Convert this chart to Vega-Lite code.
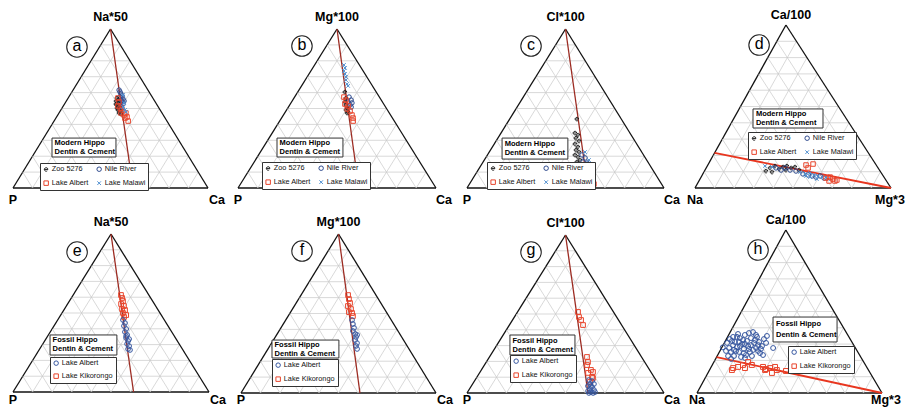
{
  "$schema": "https://vega.github.io/schema/vega-lite/v6.json",
  "background": "white",
  "padding": 0,
  "spacing": 0,
  "columns": 4,
  "bounds": "flush",
  "resolve": {
    "scale": {"x": "independent", "y": "independent", "color": "independent", "shape": "independent"},
    "legend": {"color": "independent", "shape": "independent"}
  },
  "config": {
    "view": {"stroke": null},
    "legend": {
      "labelFont": "Liberation Sans",
      "labelFontSize": 7.3,
      "labelColor": "#111",
      "symbolSize": 20,
      "symbolStrokeWidth": 1,
      "strokeColor": "#333",
      "fillColor": "white",
      "padding": 2.5,
      "rowPadding": 5,
      "columnPadding": 5,
      "labelOffset": 2
    }
  },
  "datasets": {
    "grid": [
      {"f": "t", "k": 0}, {"f": "t", "k": 0.1}, {"f": "t", "k": 0.2}, {"f": "t", "k": 0.3}, {"f": "t", "k": 0.4},
      {"f": "t", "k": 0.5}, {"f": "t", "k": 0.6}, {"f": "t", "k": 0.7}, {"f": "t", "k": 0.8}, {"f": "t", "k": 0.9},
      {"f": "r", "k": 0}, {"f": "r", "k": 0.1}, {"f": "r", "k": 0.2}, {"f": "r", "k": 0.3}, {"f": "r", "k": 0.4},
      {"f": "r", "k": 0.5}, {"f": "r", "k": 0.6}, {"f": "r", "k": 0.7}, {"f": "r", "k": 0.8}, {"f": "r", "k": 0.9},
      {"f": "l", "k": 0}, {"f": "l", "k": 0.1}, {"f": "l", "k": 0.2}, {"f": "l", "k": 0.3}, {"f": "l", "k": 0.4},
      {"f": "l", "k": 0.5}, {"f": "l", "k": 0.6}, {"f": "l", "k": 0.7}, {"f": "l", "k": 0.8}, {"f": "l", "k": 0.9}
    ],
    "pts": [
      {"panel": "a", "group": "Nile River", "top": 61.6, "right": 23.6},
      {"panel": "a", "group": "Nile River", "top": 60.4, "right": 24.7},
      {"panel": "a", "group": "Nile River", "top": 59.1, "right": 25.8},
      {"panel": "a", "group": "Nile River", "top": 57.9, "right": 27.0},
      {"panel": "a", "group": "Nile River", "top": 57.2, "right": 26.3},
      {"panel": "a", "group": "Nile River", "top": 56.0, "right": 28.4},
      {"panel": "a", "group": "Nile River", "top": 55.3, "right": 27.8},
      {"panel": "a", "group": "Nile River", "top": 54.1, "right": 28.9},
      {"panel": "a", "group": "Nile River", "top": 53.5, "right": 28.1},
      {"panel": "a", "group": "Nile River", "top": 52.8, "right": 30.0},
      {"panel": "a", "group": "Nile River", "top": 51.6, "right": 29.6},
      {"panel": "a", "group": "Nile River", "top": 50.3, "right": 29.2},
      {"panel": "a", "group": "Nile River", "top": 50.3, "right": 30.7},
      {"panel": "a", "group": "Nile River", "top": 54.7, "right": 29.6},
      {"panel": "a", "group": "Zoo 5276", "top": 56.6, "right": 25.0},
      {"panel": "a", "group": "Zoo 5276", "top": 54.7, "right": 25.5},
      {"panel": "a", "group": "Zoo 5276", "top": 53.5, "right": 27.1},
      {"panel": "a", "group": "Zoo 5276", "top": 52.2, "right": 27.2},
      {"panel": "a", "group": "Zoo 5276", "top": 51.6, "right": 28.6},
      {"panel": "a", "group": "Zoo 5276", "top": 50.3, "right": 28.2},
      {"panel": "a", "group": "Zoo 5276", "top": 49.1, "right": 29.3},
      {"panel": "a", "group": "Zoo 5276", "top": 48.4, "right": 30.7},
      {"panel": "a", "group": "Zoo 5276", "top": 47.2, "right": 30.8},
      {"panel": "a", "group": "Zoo 5276", "top": 46.5, "right": 32.2},
      {"panel": "a", "group": "Zoo 5276", "top": 55.3, "right": 26.2},
      {"panel": "a", "group": "Zoo 5276", "top": 52.8, "right": 26.4},
      {"panel": "a", "group": "Lake Albert", "top": 56.6, "right": 25.5},
      {"panel": "a", "group": "Lake Albert", "top": 54.1, "right": 27.3},
      {"panel": "a", "group": "Lake Albert", "top": 51.6, "right": 28.0},
      {"panel": "a", "group": "Lake Albert", "top": 50.3, "right": 29.8},
      {"panel": "a", "group": "Lake Albert", "top": 49.1, "right": 31.3},
      {"panel": "a", "group": "Lake Albert", "top": 47.2, "right": 31.8},
      {"panel": "a", "group": "Lake Albert", "top": 45.9, "right": 34.0},
      {"panel": "a", "group": "Lake Albert", "top": 47.2, "right": 34.3},
      {"panel": "a", "group": "Lake Albert", "top": 44.7, "right": 36.1},
      {"panel": "a", "group": "Lake Albert", "top": 42.1, "right": 38.0},
      {"panel": "a", "group": "Lake Albert", "top": 44.0, "right": 35.4},
      {"panel": "a", "group": "Lake Malawi", "top": 58.5, "right": 27.2},
      {"panel": "a", "group": "Lake Malawi", "top": 53.5, "right": 30.2},
      {"panel": "a", "group": "Lake Malawi", "top": 49.1, "right": 32.9},
      {"panel": "a", "group": "Lake Malawi", "top": 47.8, "right": 34.0},
      {"panel": "a", "group": "Lake Malawi", "top": 50.9, "right": 31.0},

      {"panel": "b", "group": "Lake Malawi", "top": 77.4, "right": 14.8},
      {"panel": "b", "group": "Lake Malawi", "top": 75.5, "right": 16.3},
      {"panel": "b", "group": "Lake Malawi", "top": 73.6, "right": 16.7},
      {"panel": "b", "group": "Lake Malawi", "top": 71.7, "right": 18.2},
      {"panel": "b", "group": "Lake Malawi", "top": 69.8, "right": 19.6},
      {"panel": "b", "group": "Lake Malawi", "top": 67.9, "right": 20.6},
      {"panel": "b", "group": "Lake Malawi", "top": 65.4, "right": 22.4},
      {"panel": "b", "group": "Lake Malawi", "top": 64.2, "right": 23.5},
      {"panel": "b", "group": "Nile River", "top": 57.2, "right": 27.5},
      {"panel": "b", "group": "Nile River", "top": 55.3, "right": 29.5},
      {"panel": "b", "group": "Nile River", "top": 53.5, "right": 30.8},
      {"panel": "b", "group": "Nile River", "top": 52.2, "right": 30.5},
      {"panel": "b", "group": "Nile River", "top": 54.1, "right": 28.5},
      {"panel": "b", "group": "Nile River", "top": 50.9, "right": 31.7},
      {"panel": "b", "group": "Zoo 5276", "top": 60.4, "right": 23.8},
      {"panel": "b", "group": "Zoo 5276", "top": 56.6, "right": 26.2},
      {"panel": "b", "group": "Zoo 5276", "top": 54.1, "right": 27.0},
      {"panel": "b", "group": "Zoo 5276", "top": 52.2, "right": 28.4},
      {"panel": "b", "group": "Zoo 5276", "top": 50.3, "right": 30.0},
      {"panel": "b", "group": "Zoo 5276", "top": 49.1, "right": 30.0},
      {"panel": "b", "group": "Zoo 5276", "top": 47.8, "right": 31.7},
      {"panel": "b", "group": "Zoo 5276", "top": 47.2, "right": 31.5},
      {"panel": "b", "group": "Lake Albert", "top": 57.2, "right": 24.9},
      {"panel": "b", "group": "Lake Albert", "top": 55.3, "right": 26.9},
      {"panel": "b", "group": "Lake Albert", "top": 52.8, "right": 27.6},
      {"panel": "b", "group": "Lake Albert", "top": 51.6, "right": 29.8},
      {"panel": "b", "group": "Lake Albert", "top": 49.7, "right": 30.3},
      {"panel": "b", "group": "Lake Albert", "top": 48.4, "right": 32.4},
      {"panel": "b", "group": "Lake Albert", "top": 45.9, "right": 34.6},
      {"panel": "b", "group": "Lake Albert", "top": 44.0, "right": 36.1},
      {"panel": "b", "group": "Lake Albert", "top": 42.1, "right": 37.1},

      {"panel": "c", "group": "Zoo 5276", "top": 43.4, "right": 34.1},
      {"panel": "c", "group": "Zoo 5276", "top": 34.6, "right": 37.5},
      {"panel": "c", "group": "Zoo 5276", "top": 33.3, "right": 39.7},
      {"panel": "c", "group": "Zoo 5276", "top": 31.4, "right": 39.6},
      {"panel": "c", "group": "Zoo 5276", "top": 29.6, "right": 42.1},
      {"panel": "c", "group": "Zoo 5276", "top": 27.7, "right": 41.0},
      {"panel": "c", "group": "Zoo 5276", "top": 25.8, "right": 43.4},
      {"panel": "c", "group": "Zoo 5276", "top": 23.9, "right": 43.4},
      {"panel": "c", "group": "Zoo 5276", "top": 22.6, "right": 45.6},
      {"panel": "c", "group": "Zoo 5276", "top": 20.8, "right": 44.4},
      {"panel": "c", "group": "Zoo 5276", "top": 19.5, "right": 46.6},
      {"panel": "c", "group": "Zoo 5276", "top": 17.6, "right": 48.6},
      {"panel": "c", "group": "Zoo 5276", "top": 16.4, "right": 47.6},
      {"panel": "c", "group": "Zoo 5276", "top": 14.5, "right": 50.7},
      {"panel": "c", "group": "Zoo 5276", "top": 13.2, "right": 49.7},
      {"panel": "c", "group": "Nile River", "top": 20.8, "right": 48.0},
      {"panel": "c", "group": "Nile River", "top": 18.9, "right": 50.5},
      {"panel": "c", "group": "Nile River", "top": 16.4, "right": 50.7},
      {"panel": "c", "group": "Nile River", "top": 15.7, "right": 53.1},
      {"panel": "c", "group": "Nile River", "top": 13.8, "right": 52.5},
      {"panel": "c", "group": "Nile River", "top": 12.6, "right": 55.1},
      {"panel": "c", "group": "Nile River", "top": 11.9, "right": 52.5},
      {"panel": "c", "group": "Nile River", "top": 10.7, "right": 55.1},
      {"panel": "c", "group": "Nile River", "top": 10.1, "right": 56.9},
      {"panel": "c", "group": "Nile River", "top": 8.8, "right": 54.5},
      {"panel": "c", "group": "Nile River", "top": 7.5, "right": 57.2},
      {"panel": "c", "group": "Nile River", "top": 6.9, "right": 59.0},
      {"panel": "c", "group": "Nile River", "top": 5.7, "right": 56.6},
      {"panel": "c", "group": "Nile River", "top": 4.4, "right": 59.2},
      {"panel": "c", "group": "Nile River", "top": 2.5, "right": 58.7},
      {"panel": "c", "group": "Nile River", "top": 3.8, "right": 61.0},
      {"panel": "c", "group": "Nile River", "top": 6.9, "right": 54.5},
      {"panel": "c", "group": "Lake Malawi", "top": 22.6, "right": 48.6},
      {"panel": "c", "group": "Lake Malawi", "top": 17.6, "right": 53.1},
      {"panel": "c", "group": "Lake Malawi", "top": 14.5, "right": 53.2},
      {"panel": "c", "group": "Lake Malawi", "top": 13.8, "right": 55.5},
      {"panel": "c", "group": "Lake Malawi", "top": 11.3, "right": 53.8},
      {"panel": "c", "group": "Lake Malawi", "top": 8.8, "right": 57.0},
      {"panel": "c", "group": "Lake Malawi", "top": 11.3, "right": 57.3},
      {"panel": "c", "group": "Lake Malawi", "top": 6.9, "right": 56.5},
      {"panel": "c", "group": "Lake Malawi", "top": 5.7, "right": 59.1},
      {"panel": "c", "group": "Lake Malawi", "top": 8.2, "right": 59.9},
      {"panel": "c", "group": "Lake Malawi", "top": 4.4, "right": 58.2},
      {"panel": "c", "group": "Lake Albert", "top": 10.1, "right": 51.8},
      {"panel": "c", "group": "Lake Albert", "top": 8.8, "right": 54.0},
      {"panel": "c", "group": "Lake Albert", "top": 7.5, "right": 53.6},
      {"panel": "c", "group": "Lake Albert", "top": 7.5, "right": 56.1},
      {"panel": "c", "group": "Lake Albert", "top": 6.3, "right": 58.8},
      {"panel": "c", "group": "Lake Albert", "top": 6.3, "right": 60.3},
      {"panel": "c", "group": "Lake Albert", "top": 2.5, "right": 63.2},
      {"panel": "c", "group": "Lake Albert", "top": 10.1, "right": 53.8},
      {"panel": "c", "group": "Lake Albert", "top": 5.0, "right": 58.4},

      {"panel": "d", "group": "Zoo 5276", "top": 10.4, "right": 31.4},
      {"panel": "d", "group": "Zoo 5276", "top": 12.3, "right": 32.6},
      {"panel": "d", "group": "Zoo 5276", "top": 13.5, "right": 34.5},
      {"panel": "d", "group": "Zoo 5276", "top": 11.7, "right": 37.5},
      {"panel": "d", "group": "Zoo 5276", "top": 12.9, "right": 38.9},
      {"panel": "d", "group": "Zoo 5276", "top": 13.5, "right": 40.6},
      {"panel": "d", "group": "Zoo 5276", "top": 12.3, "right": 43.3},
      {"panel": "d", "group": "Zoo 5276", "top": 12.9, "right": 45.0},
      {"panel": "d", "group": "Zoo 5276", "top": 11.0, "right": 48.0},
      {"panel": "d", "group": "Zoo 5276", "top": 9.8, "right": 34.8},
      {"panel": "d", "group": "Zoo 5276", "top": 11.0, "right": 41.3},
      {"panel": "d", "group": "Nile River", "top": 12.3, "right": 35.6},
      {"panel": "d", "group": "Nile River", "top": 11.0, "right": 38.8},
      {"panel": "d", "group": "Nile River", "top": 12.3, "right": 40.2},
      {"panel": "d", "group": "Nile River", "top": 11.0, "right": 43.4},
      {"panel": "d", "group": "Nile River", "top": 10.4, "right": 46.7},
      {"panel": "d", "group": "Nile River", "top": 8.6, "right": 51.1},
      {"panel": "d", "group": "Nile River", "top": 8.0, "right": 54.0},
      {"panel": "d", "group": "Nile River", "top": 7.4, "right": 56.3},
      {"panel": "d", "group": "Nile River", "top": 6.7, "right": 58.6},
      {"panel": "d", "group": "Nile River", "top": 7.4, "right": 60.4},
      {"panel": "d", "group": "Nile River", "top": 6.1, "right": 63.0},
      {"panel": "d", "group": "Lake Malawi", "top": 13.5, "right": 29.4},
      {"panel": "d", "group": "Lake Malawi", "top": 12.9, "right": 33.3},
      {"panel": "d", "group": "Lake Malawi", "top": 9.8, "right": 49.1},
      {"panel": "d", "group": "Lake Malawi", "top": 8.6, "right": 52.1},
      {"panel": "d", "group": "Lake Malawi", "top": 9.2, "right": 54.4},
      {"panel": "d", "group": "Lake Malawi", "top": 8.0, "right": 57.0},
      {"panel": "d", "group": "Lake Malawi", "top": 7.4, "right": 59.4},
      {"panel": "d", "group": "Lake Malawi", "top": 6.7, "right": 61.7},
      {"panel": "d", "group": "Lake Malawi", "top": 6.7, "right": 63.7},
      {"panel": "d", "group": "Lake Malawi", "top": 6.7, "right": 55.6},
      {"panel": "d", "group": "Lake Malawi", "top": 5.5, "right": 59.6},
      {"panel": "d", "group": "Lake Malawi", "top": 5.5, "right": 65.3},
      {"panel": "d", "group": "Lake Malawi", "top": 7.4, "right": 53.2},
      {"panel": "d", "group": "Lake Albert", "top": 14.1, "right": 50.1},
      {"panel": "d", "group": "Lake Albert", "top": 14.7, "right": 53.4},
      {"panel": "d", "group": "Lake Albert", "top": 12.3, "right": 52.0},
      {"panel": "d", "group": "Lake Albert", "top": 6.1, "right": 64.0},
      {"panel": "d", "group": "Lake Albert", "top": 6.7, "right": 65.8},
      {"panel": "d", "group": "Lake Albert", "top": 5.5, "right": 67.8},
      {"panel": "d", "group": "Lake Albert", "top": 4.3, "right": 69.4},
      {"panel": "d", "group": "Lake Albert", "top": 4.3, "right": 66.4},
      {"panel": "d", "group": "Lake Albert", "top": 4.9, "right": 70.1},

      {"panel": "e", "group": "Lake Kikorongo", "top": 61.4, "right": 24.4},
      {"panel": "e", "group": "Lake Kikorongo", "top": 59.5, "right": 25.9},
      {"panel": "e", "group": "Lake Kikorongo", "top": 57.6, "right": 27.3},
      {"panel": "e", "group": "Lake Kikorongo", "top": 55.7, "right": 27.3},
      {"panel": "e", "group": "Lake Kikorongo", "top": 54.4, "right": 29.4},
      {"panel": "e", "group": "Lake Kikorongo", "top": 52.5, "right": 29.4},
      {"panel": "e", "group": "Lake Kikorongo", "top": 51.9, "right": 31.2},
      {"panel": "e", "group": "Lake Kikorongo", "top": 50.0, "right": 31.1},
      {"panel": "e", "group": "Lake Kikorongo", "top": 48.7, "right": 33.4},
      {"panel": "e", "group": "Lake Kikorongo", "top": 47.5, "right": 32.9},
      {"panel": "e", "group": "Lake Albert", "top": 45.6, "right": 33.3},
      {"panel": "e", "group": "Lake Albert", "top": 43.7, "right": 35.3},
      {"panel": "e", "group": "Lake Albert", "top": 41.8, "right": 35.7},
      {"panel": "e", "group": "Lake Albert", "top": 39.9, "right": 37.8},
      {"panel": "e", "group": "Lake Albert", "top": 38.0, "right": 38.1},
      {"panel": "e", "group": "Lake Albert", "top": 36.1, "right": 40.2},
      {"panel": "e", "group": "Lake Albert", "top": 34.2, "right": 40.6},
      {"panel": "e", "group": "Lake Albert", "top": 32.3, "right": 42.6},
      {"panel": "e", "group": "Lake Albert", "top": 30.4, "right": 43.0},
      {"panel": "e", "group": "Lake Albert", "top": 29.1, "right": 44.7},
      {"panel": "e", "group": "Lake Albert", "top": 27.2, "right": 45.1},
      {"panel": "e", "group": "Lake Albert", "top": 26.6, "right": 46.4},
      {"panel": "e", "group": "Lake Albert", "top": 35.4, "right": 40.0},
      {"panel": "e", "group": "Lake Albert", "top": 33.5, "right": 42.5},

      {"panel": "f", "group": "Lake Kikorongo", "top": 61.6, "right": 24.1},
      {"panel": "f", "group": "Lake Kikorongo", "top": 59.1, "right": 25.8},
      {"panel": "f", "group": "Lake Kikorongo", "top": 56.6, "right": 27.6},
      {"panel": "f", "group": "Lake Kikorongo", "top": 54.7, "right": 27.5},
      {"panel": "f", "group": "Lake Kikorongo", "top": 52.8, "right": 30.0},
      {"panel": "f", "group": "Lake Kikorongo", "top": 50.9, "right": 29.9},
      {"panel": "f", "group": "Lake Kikorongo", "top": 50.3, "right": 31.8},
      {"panel": "f", "group": "Lake Kikorongo", "top": 48.4, "right": 33.2},
      {"panel": "f", "group": "Lake Albert", "top": 45.9, "right": 34.0},
      {"panel": "f", "group": "Lake Albert", "top": 43.4, "right": 35.7},
      {"panel": "f", "group": "Lake Albert", "top": 40.9, "right": 37.5},
      {"panel": "f", "group": "Lake Albert", "top": 39.0, "right": 37.9},
      {"panel": "f", "group": "Lake Albert", "top": 37.1, "right": 40.0},
      {"panel": "f", "group": "Lake Albert", "top": 35.2, "right": 41.4},
      {"panel": "f", "group": "Lake Albert", "top": 33.3, "right": 41.9},
      {"panel": "f", "group": "Lake Albert", "top": 31.4, "right": 43.8},
      {"panel": "f", "group": "Lake Albert", "top": 29.6, "right": 44.2},
      {"panel": "f", "group": "Lake Albert", "top": 27.7, "right": 45.7},
      {"panel": "f", "group": "Lake Albert", "top": 36.5, "right": 41.3},

      {"panel": "g", "group": "Lake Kikorongo", "top": 51.3, "right": 30.7},
      {"panel": "g", "group": "Lake Kikorongo", "top": 48.1, "right": 32.8},
      {"panel": "g", "group": "Lake Kikorongo", "top": 46.2, "right": 34.8},
      {"panel": "g", "group": "Lake Kikorongo", "top": 43.0, "right": 37.4},
      {"panel": "g", "group": "Lake Kikorongo", "top": 22.8, "right": 49.5},
      {"panel": "g", "group": "Lake Kikorongo", "top": 19.6, "right": 51.6},
      {"panel": "g", "group": "Lake Kikorongo", "top": 17.7, "right": 52.1},
      {"panel": "g", "group": "Lake Kikorongo", "top": 14.6, "right": 55.6},
      {"panel": "g", "group": "Lake Kikorongo", "top": 13.3, "right": 57.3},
      {"panel": "g", "group": "Lake Kikorongo", "top": 12.7, "right": 55.1},
      {"panel": "g", "group": "Lake Kikorongo", "top": 10.1, "right": 58.4},
      {"panel": "g", "group": "Lake Kikorongo", "top": 7.0, "right": 58.9},
      {"panel": "g", "group": "Lake Kikorongo", "top": 9.5, "right": 59.2},
      {"panel": "g", "group": "Lake Albert", "top": 8.2, "right": 57.8},
      {"panel": "g", "group": "Lake Albert", "top": 7.6, "right": 59.7},
      {"panel": "g", "group": "Lake Albert", "top": 5.7, "right": 59.6},
      {"panel": "g", "group": "Lake Albert", "top": 5.7, "right": 61.6},
      {"panel": "g", "group": "Lake Albert", "top": 4.4, "right": 59.2},
      {"panel": "g", "group": "Lake Albert", "top": 3.8, "right": 61.6},
      {"panel": "g", "group": "Lake Albert", "top": 2.5, "right": 61.2},
      {"panel": "g", "group": "Lake Albert", "top": 1.9, "right": 63.5},
      {"panel": "g", "group": "Lake Albert", "top": 1.3, "right": 60.8},
      {"panel": "g", "group": "Lake Albert", "top": 0.6, "right": 62.6},
      {"panel": "g", "group": "Lake Albert", "top": 0.6, "right": 64.7},
      {"panel": "g", "group": "Lake Albert", "top": 0.0, "right": 61.9},
      {"panel": "g", "group": "Lake Albert", "top": 0.0, "right": 64.0},
      {"panel": "g", "group": "Lake Albert", "top": 4.4, "right": 60.7},

      {"panel": "h", "group": "Lake Albert", "top": 28.0, "right": 0.5},
      {"panel": "h", "group": "Lake Albert", "top": 30.7, "right": 1.5},
      {"panel": "h", "group": "Lake Albert", "top": 33.1, "right": 1.9},
      {"panel": "h", "group": "Lake Albert", "top": 27.6, "right": 4.1},
      {"panel": "h", "group": "Lake Albert", "top": 25.2, "right": 6.3},
      {"panel": "h", "group": "Lake Albert", "top": 34.4, "right": 3.0},
      {"panel": "h", "group": "Lake Albert", "top": 31.3, "right": 5.5},
      {"panel": "h", "group": "Lake Albert", "top": 28.2, "right": 8.1},
      {"panel": "h", "group": "Lake Albert", "top": 25.2, "right": 10.6},
      {"panel": "h", "group": "Lake Albert", "top": 33.7, "right": 7.0},
      {"panel": "h", "group": "Lake Albert", "top": 30.1, "right": 9.9},
      {"panel": "h", "group": "Lake Albert", "top": 27.0, "right": 12.4},
      {"panel": "h", "group": "Lake Albert", "top": 35.6, "right": 8.8},
      {"panel": "h", "group": "Lake Albert", "top": 31.9, "right": 11.7},
      {"panel": "h", "group": "Lake Albert", "top": 28.8, "right": 13.8},
      {"panel": "h", "group": "Lake Albert", "top": 25.2, "right": 16.5},
      {"panel": "h", "group": "Lake Albert", "top": 33.7, "right": 13.0},
      {"panel": "h", "group": "Lake Albert", "top": 37.4, "right": 12.3},
      {"panel": "h", "group": "Lake Albert", "top": 30.7, "right": 16.1},
      {"panel": "h", "group": "Lake Albert", "top": 27.6, "right": 18.7},
      {"panel": "h", "group": "Lake Albert", "top": 34.4, "right": 15.9},
      {"panel": "h", "group": "Lake Albert", "top": 31.3, "right": 18.5},
      {"panel": "h", "group": "Lake Albert", "top": 24.5, "right": 22.3},
      {"panel": "h", "group": "Lake Albert", "top": 28.8, "right": 21.3},
      {"panel": "h", "group": "Lake Albert", "top": 33.1, "right": 20.3},
      {"panel": "h", "group": "Lake Albert", "top": 35.0, "right": 21.0},
      {"panel": "h", "group": "Lake Albert", "top": 27.6, "right": 27.9},
      {"panel": "h", "group": "Lake Albert", "top": 22.7, "right": 5.9},
      {"panel": "h", "group": "Lake Albert", "top": 22.7, "right": 9.1},
      {"panel": "h", "group": "Lake Albert", "top": 22.1, "right": 13.2},
      {"panel": "h", "group": "Lake Albert", "top": 23.3, "right": 15.3},
      {"panel": "h", "group": "Lake Albert", "top": 22.7, "right": 18.8},
      {"panel": "h", "group": "Lake Albert", "top": 25.8, "right": 3.3},
      {"panel": "h", "group": "Lake Albert", "top": 36.2, "right": 4.8},
      {"panel": "h", "group": "Lake Albert", "top": 36.8, "right": 10.4},
      {"panel": "h", "group": "Lake Albert", "top": 25.8, "right": 20.6},
      {"panel": "h", "group": "Lake Albert", "top": 32.5, "right": 9.3},
      {"panel": "h", "group": "Lake Albert", "top": 25.8, "right": 8.7},
      {"panel": "h", "group": "Lake Albert", "top": 29.4, "right": 5.4},
      {"panel": "h", "group": "Lake Albert", "top": 32.5, "right": 15.8},
      {"panel": "h", "group": "Lake Albert", "top": 27.0, "right": 21.6},
      {"panel": "h", "group": "Lake Albert", "top": 21.5, "right": 15.6},
      {"panel": "h", "group": "Lake Albert", "top": 20.9, "right": 8.4},
      {"panel": "h", "group": "Lake Albert", "top": 30.7, "right": 22.6},
      {"panel": "h", "group": "Lake Albert", "top": 34.4, "right": 5.1},
      {"panel": "h", "group": "Lake Albert", "top": 27.0, "right": 15.1},
      {"panel": "h", "group": "Lake Albert", "top": 26.4, "right": 17.6},
      {"panel": "h", "group": "Lake Albert", "top": 28.8, "right": 9.4},
      {"panel": "h", "group": "Lake Albert", "top": 30.1, "right": 11.5},
      {"panel": "h", "group": "Lake Albert", "top": 31.9, "right": 3.6},
      {"panel": "h", "group": "Lake Albert", "top": 35.6, "right": 14.8},
      {"panel": "h", "group": "Lake Albert", "top": 23.3, "right": 24.5},
      {"panel": "h", "group": "Lake Albert", "top": 31.3, "right": 7.7},
      {"panel": "h", "group": "Lake Albert", "top": 29.4, "right": 15.1},
      {"panel": "h", "group": "Lake Albert", "top": 24.5, "right": 13.6},
      {"panel": "h", "group": "Lake Albert", "top": 29.4, "right": 18.9},
      {"panel": "h", "group": "Lake Albert", "top": 26.4, "right": 7.3},
      {"panel": "h", "group": "Lake Kikorongo", "top": 14.1, "right": 12.1},
      {"panel": "h", "group": "Lake Kikorongo", "top": 15.3, "right": 12.2},
      {"panel": "h", "group": "Lake Kikorongo", "top": 16.0, "right": 14.5},
      {"panel": "h", "group": "Lake Kikorongo", "top": 17.2, "right": 16.6},
      {"panel": "h", "group": "Lake Kikorongo", "top": 19.0, "right": 18.5},
      {"panel": "h", "group": "Lake Kikorongo", "top": 17.2, "right": 21.4},
      {"panel": "h", "group": "Lake Kikorongo", "top": 15.3, "right": 18.6},
      {"panel": "h", "group": "Lake Kikorongo", "top": 16.0, "right": 28.0},
      {"panel": "h", "group": "Lake Kikorongo", "top": 14.7, "right": 30.2},
      {"panel": "h", "group": "Lake Kikorongo", "top": 15.3, "right": 32.2},
      {"panel": "h", "group": "Lake Kikorongo", "top": 16.0, "right": 34.5},
      {"panel": "h", "group": "Lake Kikorongo", "top": 14.1, "right": 36.4},
      {"panel": "h", "group": "Lake Kikorongo", "top": 12.3, "right": 34.6},
      {"panel": "h", "group": "Lake Kikorongo", "top": 14.1, "right": 30.0},
      {"panel": "h", "group": "Lake Kikorongo", "top": 13.5, "right": 41.6}
    ]
  },
  "concat": [
    {
      "width": 227, "height": 204,
      "layer": [
        {"data": {"name": "grid"},
         "transform": [
           {"calculate": "datum.f == 't' ? 0.5*datum.k : datum.f == 'r' ? datum.k : 1 - datum.k", "as": "x1"},
           {"calculate": "datum.f == 't' ? datum.k : 0", "as": "y1"},
           {"calculate": "datum.f == 't' ? 1 - datum.k + 0.5*datum.k : datum.f == 'r' ? datum.k + 0.5*(1 - datum.k) : 0.5*(1 - datum.k)", "as": "x2"},
           {"calculate": "datum.f == 't' ? datum.k : 1 - datum.k", "as": "y2"}],
         "mark": {"type": "rule"},
         "encoding": {
           "x": {"field": "x1", "type": "quantitative", "scale": {"domain": [-0.0667, 1.0974], "nice": false, "zero": false}, "axis": null},
           "y": {"field": "y1", "type": "quantitative", "scale": {"domain": [-0.1006, 1.1824], "nice": false, "zero": false}, "axis": null},
           "x2": {"field": "x2"}, "y2": {"field": "y2"},
           "color": {"condition": {"test": "datum.k == 0", "value": "#111111"}, "value": "#c8c8c8"},
           "strokeWidth": {"condition": {"test": "datum.k == 0", "value": 1.3}, "value": 0.7}}},
        {"data": {"values": [{}]}, "mark": {"type": "rule", "color": "#9c2b22", "strokeWidth": 1.3},
         "encoding": {"x": {"datum": 0.5, "type": "quantitative"}, "y": {"datum": 1, "type": "quantitative"}, "x2": {"datum": 0.615}, "y2": {"datum": 0}}},
        {"data": {"name": "pts"},
         "transform": [{"filter": "datum.panel == 'a'"}, {"calculate": "(datum.right + 0.5*datum.top)/100", "as": "tx"}, {"calculate": "datum.top/100", "as": "ty"}],
         "mark": {"type": "point", "filled": false, "opacity": 1, "strokeWidth": 1, "size": 20},
         "encoding": {
           "x": {"field": "tx", "type": "quantitative"}, "y": {"field": "ty", "type": "quantitative"},
           "color": {"field": "group", "type": "nominal", "scale": {"domain": ["Zoo 5276", "Nile River", "Lake Albert", "Lake Malawi"], "range": ["#1a1a1a", "#2e4a8e", "#e8452c", "#4f8fd0"]},
             "legend": {"title": null, "orient": "none", "legendX": 40, "legendY": 163, "columns": 2, "direction": "horizontal"}},
           "shape": {"field": "group", "type": "nominal", "scale": {"domain": ["Zoo 5276", "Nile River", "Lake Albert", "Lake Malawi"], "range": ["M-0.8,0H0.8A0.8,0.8 0 1 0 0.5,0.65", "circle", "square", "M-0.8,-0.8L0.8,0.8M-0.8,0.8L0.8,-0.8"]},
             "legend": {"title": null, "orient": "none", "legendX": 40, "legendY": 163, "columns": 2, "direction": "horizontal"}}}},
        {"data": {"values": [{}]}, "mark": {"type": "rect", "fill": "white", "stroke": "#333333", "strokeWidth": 1},
         "encoding": {"x": {"datum": 0.2}, "x2": {"datum": 0.528}, "y": {"datum": 0.314}, "y2": {"datum": 0.195}}},
        {"data": {"values": [{}]}, "mark": {"type": "text", "align": "left", "baseline": "middle", "font": "Liberation Sans", "fontWeight": "bold", "fontSize": 7.5, "lineHeight": 9, "text": ["Modern Hippo", "Dentin & Cement"]},
         "encoding": {"x": {"datum": 0.213}, "y": {"datum": 0.28}}},
        {"data": {"values": [{}]}, "mark": {"type": "point", "shape": "circle", "size": 420, "filled": false, "color": "#222222", "strokeWidth": 1.1, "opacity": 1},
         "encoding": {"x": {"datum": 0.328}, "y": {"datum": 0.887}}},
        {"data": {"values": [{}]}, "mark": {"type": "text", "text": "a", "font": "Liberation Sans", "fontSize": 16, "align": "center", "baseline": "middle", "dy": -1},
         "encoding": {"x": {"datum": 0.328}, "y": {"datum": 0.887}}},
        {"data": {"values": [{}]}, "mark": {"type": "text", "text": "Na*50", "font": "Liberation Sans", "fontWeight": "bold", "fontSize": 12.5, "align": "center", "baseline": "middle", "dy": -12},
         "encoding": {"x": {"datum": 0.5}, "y": {"datum": 1}}},
        {"data": {"values": [{}]}, "mark": {"type": "text", "text": "P", "font": "Liberation Sans", "fontWeight": "bold", "fontSize": 12.5, "align": "center", "baseline": "middle", "dy": 12},
         "encoding": {"x": {"datum": 0}, "y": {"datum": 0}}},
        {"data": {"values": [{}]}, "mark": {"type": "text", "text": "Ca", "font": "Liberation Sans", "fontWeight": "bold", "fontSize": 12.5, "align": "center", "baseline": "middle", "dx": 9, "dy": 12},
         "encoding": {"x": {"datum": 1}, "y": {"datum": 0}}}
      ]
    },
    {
      "width": 227, "height": 204,
      "layer": [
        {"data": {"name": "grid"},
         "transform": [
           {"calculate": "datum.f == 't' ? 0.5*datum.k : datum.f == 'r' ? datum.k : 1 - datum.k", "as": "x1"},
           {"calculate": "datum.f == 't' ? datum.k : 0", "as": "y1"},
           {"calculate": "datum.f == 't' ? 1 - datum.k + 0.5*datum.k : datum.f == 'r' ? datum.k + 0.5*(1 - datum.k) : 0.5*(1 - datum.k)", "as": "x2"},
           {"calculate": "datum.f == 't' ? datum.k : 1 - datum.k", "as": "y2"}],
         "mark": {"type": "rule"},
         "encoding": {
           "x": {"field": "x1", "type": "quantitative", "scale": {"domain": [-0.0556, 1.0909], "nice": false, "zero": false}, "axis": null},
           "y": {"field": "y1", "type": "quantitative", "scale": {"domain": [-0.1006, 1.1824], "nice": false, "zero": false}, "axis": null},
           "x2": {"field": "x2"}, "y2": {"field": "y2"},
           "color": {"condition": {"test": "datum.k == 0", "value": "#111111"}, "value": "#c8c8c8"},
           "strokeWidth": {"condition": {"test": "datum.k == 0", "value": 1.3}, "value": 0.7}}},
        {"data": {"values": [{}]}, "mark": {"type": "rule", "color": "#9c2b22", "strokeWidth": 1.3},
         "encoding": {"x": {"datum": 0.5, "type": "quantitative"}, "y": {"datum": 1, "type": "quantitative"}, "x2": {"datum": 0.61}, "y2": {"datum": 0}}},
        {"data": {"name": "pts"},
         "transform": [{"filter": "datum.panel == 'b'"}, {"calculate": "(datum.right + 0.5*datum.top)/100", "as": "tx"}, {"calculate": "datum.top/100", "as": "ty"}],
         "mark": {"type": "point", "filled": false, "opacity": 1, "strokeWidth": 1, "size": 20},
         "encoding": {
           "x": {"field": "tx", "type": "quantitative"}, "y": {"field": "ty", "type": "quantitative"},
           "color": {"field": "group", "type": "nominal", "scale": {"domain": ["Zoo 5276", "Nile River", "Lake Albert", "Lake Malawi"], "range": ["#1a1a1a", "#2e4a8e", "#e8452c", "#4f8fd0"]},
             "legend": {"title": null, "orient": "none", "legendX": 35, "legendY": 162, "columns": 2, "direction": "horizontal"}},
           "shape": {"field": "group", "type": "nominal", "scale": {"domain": ["Zoo 5276", "Nile River", "Lake Albert", "Lake Malawi"], "range": ["M-0.8,0H0.8A0.8,0.8 0 1 0 0.5,0.65", "circle", "square", "M-0.8,-0.8L0.8,0.8M-0.8,0.8L0.8,-0.8"]},
             "legend": {"title": null, "orient": "none", "legendX": 35, "legendY": 162, "columns": 2, "direction": "horizontal"}}}},
        {"data": {"values": [{}]}, "mark": {"type": "rect", "fill": "white", "stroke": "#333333", "strokeWidth": 1},
         "encoding": {"x": {"datum": 0.197}, "x2": {"datum": 0.53}, "y": {"datum": 0.314}, "y2": {"datum": 0.195}}},
        {"data": {"values": [{}]}, "mark": {"type": "text", "align": "left", "baseline": "middle", "font": "Liberation Sans", "fontWeight": "bold", "fontSize": 7.5, "lineHeight": 9, "text": ["Modern Hippo", "Dentin & Cement"]},
         "encoding": {"x": {"datum": 0.21}, "y": {"datum": 0.28}}},
        {"data": {"values": [{}]}, "mark": {"type": "point", "shape": "circle", "size": 420, "filled": false, "color": "#222222", "strokeWidth": 1.1, "opacity": 1},
         "encoding": {"x": {"datum": 0.323}, "y": {"datum": 0.893}}},
        {"data": {"values": [{}]}, "mark": {"type": "text", "text": "b", "font": "Liberation Sans", "fontSize": 16, "align": "center", "baseline": "middle", "dy": -1},
         "encoding": {"x": {"datum": 0.323}, "y": {"datum": 0.893}}},
        {"data": {"values": [{}]}, "mark": {"type": "text", "text": "Mg*100", "font": "Liberation Sans", "fontWeight": "bold", "fontSize": 12.5, "align": "center", "baseline": "middle", "dy": -12},
         "encoding": {"x": {"datum": 0.5}, "y": {"datum": 1}}},
        {"data": {"values": [{}]}, "mark": {"type": "text", "text": "P", "font": "Liberation Sans", "fontWeight": "bold", "fontSize": 12.5, "align": "center", "baseline": "middle", "dy": 12},
         "encoding": {"x": {"datum": 0}, "y": {"datum": 0}}},
        {"data": {"values": [{}]}, "mark": {"type": "text", "text": "Ca", "font": "Liberation Sans", "fontWeight": "bold", "fontSize": 12.5, "align": "center", "baseline": "middle", "dx": 8, "dy": 12},
         "encoding": {"x": {"datum": 1}, "y": {"datum": 0}}}
      ]
    },
    {
      "width": 227, "height": 204,
      "layer": [
        {"data": {"name": "grid"},
         "transform": [
           {"calculate": "datum.f == 't' ? 0.5*datum.k : datum.f == 'r' ? datum.k : 1 - datum.k", "as": "x1"},
           {"calculate": "datum.f == 't' ? datum.k : 0", "as": "y1"},
           {"calculate": "datum.f == 't' ? 1 - datum.k + 0.5*datum.k : datum.f == 'r' ? datum.k + 0.5*(1 - datum.k) : 0.5*(1 - datum.k)", "as": "x2"},
           {"calculate": "datum.f == 't' ? datum.k : 1 - datum.k", "as": "y2"}],
         "mark": {"type": "rule"},
         "encoding": {
           "x": {"field": "x1", "type": "quantitative", "scale": {"domain": [-0.066, 1.0863], "nice": false, "zero": false}, "axis": null},
           "y": {"field": "y1", "type": "quantitative", "scale": {"domain": [-0.1006, 1.1824], "nice": false, "zero": false}, "axis": null},
           "x2": {"field": "x2"}, "y2": {"field": "y2"},
           "color": {"condition": {"test": "datum.k == 0", "value": "#111111"}, "value": "#c8c8c8"},
           "strokeWidth": {"condition": {"test": "datum.k == 0", "value": 1.3}, "value": 0.7}}},
        {"data": {"values": [{}]}, "mark": {"type": "rule", "color": "#9c2b22", "strokeWidth": 1.3},
         "encoding": {"x": {"datum": 0.5, "type": "quantitative"}, "y": {"datum": 1, "type": "quantitative"}, "x2": {"datum": 0.614}, "y2": {"datum": 0}}},
        {"data": {"name": "pts"},
         "transform": [{"filter": "datum.panel == 'c'"}, {"calculate": "(datum.right + 0.5*datum.top)/100", "as": "tx"}, {"calculate": "datum.top/100", "as": "ty"}],
         "mark": {"type": "point", "filled": false, "opacity": 1, "strokeWidth": 1, "size": 20},
         "encoding": {
           "x": {"field": "tx", "type": "quantitative"}, "y": {"field": "ty", "type": "quantitative"},
           "color": {"field": "group", "type": "nominal", "scale": {"domain": ["Zoo 5276", "Nile River", "Lake Albert", "Lake Malawi"], "range": ["#1a1a1a", "#2e4a8e", "#e8452c", "#4f8fd0"]},
             "legend": {"title": null, "orient": "none", "legendX": 33, "legendY": 162, "columns": 2, "direction": "horizontal"}},
           "shape": {"field": "group", "type": "nominal", "scale": {"domain": ["Zoo 5276", "Nile River", "Lake Albert", "Lake Malawi"], "range": ["M-0.8,0H0.8A0.8,0.8 0 1 0 0.5,0.65", "circle", "square", "M-0.8,-0.8L0.8,0.8M-0.8,0.8L0.8,-0.8"]},
             "legend": {"title": null, "orient": "none", "legendX": 33, "legendY": 162, "columns": 2, "direction": "horizontal"}}}},
        {"data": {"values": [{}]}, "mark": {"type": "rect", "fill": "white", "stroke": "#333333", "strokeWidth": 1},
         "encoding": {"x": {"datum": 0.178}, "x2": {"datum": 0.512}, "y": {"datum": 0.314}, "y2": {"datum": 0.182}}},
        {"data": {"values": [{}]}, "mark": {"type": "text", "align": "left", "baseline": "middle", "font": "Liberation Sans", "fontWeight": "bold", "fontSize": 7.5, "lineHeight": 9, "text": ["Modern Hippo", "Dentin & Cement"]},
         "encoding": {"x": {"datum": 0.191}, "y": {"datum": 0.277}}},
        {"data": {"values": [{}]}, "mark": {"type": "point", "shape": "circle", "size": 420, "filled": false, "color": "#222222", "strokeWidth": 1.1, "opacity": 1},
         "encoding": {"x": {"datum": 0.325}, "y": {"datum": 0.893}}},
        {"data": {"values": [{}]}, "mark": {"type": "text", "text": "c", "font": "Liberation Sans", "fontSize": 16, "align": "center", "baseline": "middle", "dy": -1},
         "encoding": {"x": {"datum": 0.325}, "y": {"datum": 0.893}}},
        {"data": {"values": [{}]}, "mark": {"type": "text", "text": "Cl*100", "font": "Liberation Sans", "fontWeight": "bold", "fontSize": 12.5, "align": "center", "baseline": "middle", "dy": -12},
         "encoding": {"x": {"datum": 0.5}, "y": {"datum": 1}}},
        {"data": {"values": [{}]}, "mark": {"type": "text", "text": "P", "font": "Liberation Sans", "fontWeight": "bold", "fontSize": 12.5, "align": "center", "baseline": "middle", "dy": 12},
         "encoding": {"x": {"datum": 0}, "y": {"datum": 0}}},
        {"data": {"values": [{}]}, "mark": {"type": "text", "text": "Ca", "font": "Liberation Sans", "fontWeight": "bold", "fontSize": 12.5, "align": "center", "baseline": "middle", "dx": 8, "dy": 12},
         "encoding": {"x": {"datum": 1}, "y": {"datum": 0}}}
      ]
    },
    {
      "width": 226, "height": 204,
      "layer": [
        {"data": {"name": "grid"},
         "transform": [
           {"calculate": "datum.f == 't' ? 0.464*datum.k : datum.f == 'r' ? datum.k : 1 - datum.k", "as": "x1"},
           {"calculate": "datum.f == 't' ? datum.k : 0", "as": "y1"},
           {"calculate": "datum.f == 't' ? 1 - datum.k + 0.464*datum.k : datum.f == 'r' ? datum.k + 0.464*(1 - datum.k) : 0.464*(1 - datum.k)", "as": "x2"},
           {"calculate": "datum.f == 't' ? datum.k : 1 - datum.k", "as": "y2"}],
         "mark": {"type": "rule"},
         "encoding": {
           "x": {"field": "x1", "type": "quantitative", "scale": {"domain": [-0.0714, 1.0816], "nice": false, "zero": false}, "axis": null},
           "y": {"field": "y1", "type": "quantitative", "scale": {"domain": [-0.0982, 1.1534], "nice": false, "zero": false}, "axis": null},
           "x2": {"field": "x2"}, "y2": {"field": "y2"},
           "color": {"condition": {"test": "datum.k == 0", "value": "#111111"}, "value": "#c8c8c8"},
           "strokeWidth": {"condition": {"test": "datum.k == 0", "value": 1.3}, "value": 0.7}}},
        {"data": {"values": [{}]}, "mark": {"type": "rule", "color": "#e8361f", "strokeWidth": 1.8},
         "encoding": {"x": {"datum": 0.0998, "type": "quantitative"}, "y": {"datum": 0.215, "type": "quantitative"}, "x2": {"datum": 1}, "y2": {"datum": 0}}},
        {"data": {"name": "pts"},
         "transform": [{"filter": "datum.panel == 'd'"}, {"calculate": "(datum.right + 0.464*datum.top)/100", "as": "tx"}, {"calculate": "datum.top/100", "as": "ty"}],
         "mark": {"type": "point", "filled": false, "opacity": 1, "strokeWidth": 1, "size": 20},
         "encoding": {
           "x": {"field": "tx", "type": "quantitative"}, "y": {"field": "ty", "type": "quantitative"},
           "color": {"field": "group", "type": "nominal", "scale": {"domain": ["Zoo 5276", "Nile River", "Lake Albert", "Lake Malawi"], "range": ["#1a1a1a", "#2e4a8e", "#e8452c", "#4f8fd0"]},
             "legend": {"title": null, "orient": "none", "legendX": 67, "legendY": 132, "columns": 2, "direction": "horizontal"}},
           "shape": {"field": "group", "type": "nominal", "scale": {"domain": ["Zoo 5276", "Nile River", "Lake Albert", "Lake Malawi"], "range": ["M-0.8,0H0.8A0.8,0.8 0 1 0 0.5,0.65", "circle", "square", "M-0.8,-0.8L0.8,0.8M-0.8,0.8L0.8,-0.8"]},
             "legend": {"title": null, "orient": "none", "legendX": 67, "legendY": 132, "columns": 2, "direction": "horizontal"}}}},
        {"data": {"values": [{}]}, "mark": {"type": "rect", "fill": "white", "stroke": "#333333", "strokeWidth": 1},
         "encoding": {"x": {"datum": 0.296}, "x2": {"datum": 0.653}, "y": {"datum": 0.485}, "y2": {"datum": 0.368}}},
        {"data": {"values": [{}]}, "mark": {"type": "text", "align": "left", "baseline": "middle", "font": "Liberation Sans", "fontWeight": "bold", "fontSize": 7.5, "lineHeight": 9, "text": ["Modern Hippo", "Dentin & Cement"]},
         "encoding": {"x": {"datum": 0.311}, "y": {"datum": 0.451}}},
        {"data": {"values": [{}]}, "mark": {"type": "point", "shape": "circle", "size": 420, "filled": false, "color": "#222222", "strokeWidth": 1.1, "opacity": 1},
         "encoding": {"x": {"datum": 0.327}, "y": {"datum": 0.877}}},
        {"data": {"values": [{}]}, "mark": {"type": "text", "text": "d", "font": "Liberation Sans", "fontSize": 16, "align": "center", "baseline": "middle", "dy": -1},
         "encoding": {"x": {"datum": 0.327}, "y": {"datum": 0.877}}},
        {"data": {"values": [{}]}, "mark": {"type": "text", "text": "Ca/100", "font": "Liberation Sans", "fontWeight": "bold", "fontSize": 12.5, "align": "center", "baseline": "middle", "dx": 5, "dy": -10},
         "encoding": {"x": {"datum": 0.464}, "y": {"datum": 1}}},
        {"data": {"values": [{}]}, "mark": {"type": "text", "text": "Na", "font": "Liberation Sans", "fontWeight": "bold", "fontSize": 12.5, "align": "center", "baseline": "middle", "dy": 12},
         "encoding": {"x": {"datum": 0}, "y": {"datum": 0}}},
        {"data": {"values": [{}]}, "mark": {"type": "text", "text": "Mg*3", "font": "Liberation Sans", "fontWeight": "bold", "fontSize": 12.5, "align": "center", "baseline": "middle", "dx": -1, "dy": 12},
         "encoding": {"x": {"datum": 1}, "y": {"datum": 0}}}
      ]
    },
    {
      "width": 227, "height": 203,
      "layer": [
        {"data": {"name": "grid"},
         "transform": [
           {"calculate": "datum.f == 't' ? 0.5*datum.k : datum.f == 'r' ? datum.k : 1 - datum.k", "as": "x1"},
           {"calculate": "datum.f == 't' ? datum.k : 0", "as": "y1"},
           {"calculate": "datum.f == 't' ? 1 - datum.k + 0.5*datum.k : datum.f == 'r' ? datum.k + 0.5*(1 - datum.k) : 0.5*(1 - datum.k)", "as": "x2"},
           {"calculate": "datum.f == 't' ? datum.k : 1 - datum.k", "as": "y2"}],
         "mark": {"type": "rule"},
         "encoding": {
           "x": {"field": "x1", "type": "quantitative", "scale": {"domain": [-0.0663, 1.0918], "nice": false, "zero": false}, "axis": null},
           "y": {"field": "y1", "type": "quantitative", "scale": {"domain": [-0.0949, 1.1899], "nice": false, "zero": false}, "axis": null},
           "x2": {"field": "x2"}, "y2": {"field": "y2"},
           "color": {"condition": {"test": "datum.k == 0", "value": "#111111"}, "value": "#c8c8c8"},
           "strokeWidth": {"condition": {"test": "datum.k == 0", "value": 1.3}, "value": 0.7}}},
        {"data": {"values": [{}]}, "mark": {"type": "rule", "color": "#9c2b22", "strokeWidth": 1.3},
         "encoding": {"x": {"datum": 0.5, "type": "quantitative"}, "y": {"datum": 1, "type": "quantitative"}, "x2": {"datum": 0.615}, "y2": {"datum": 0}}},
        {"data": {"name": "pts"},
         "transform": [{"filter": "datum.panel == 'e'"}, {"calculate": "(datum.right + 0.5*datum.top)/100", "as": "tx"}, {"calculate": "datum.top/100", "as": "ty"}],
         "mark": {"type": "point", "filled": false, "opacity": 1, "strokeWidth": 1, "size": 22},
         "encoding": {
           "x": {"field": "tx", "type": "quantitative"}, "y": {"field": "ty", "type": "quantitative"},
           "color": {"field": "group", "type": "nominal", "scale": {"domain": ["Lake Albert", "Lake Kikorongo"], "range": ["#3556a0", "#e8452c"]},
             "legend": {"title": null, "orient": "none", "legendX": 50, "legendY": 153, "columns": 1, "rowPadding": 4}},
           "shape": {"field": "group", "type": "nominal", "scale": {"domain": ["Lake Albert", "Lake Kikorongo"], "range": ["circle", "square"]},
             "legend": {"title": null, "orient": "none", "legendX": 50, "legendY": 153, "columns": 1, "rowPadding": 4}}}},
        {"data": {"values": [{}]}, "mark": {"type": "rect", "fill": "white", "stroke": "#333333", "strokeWidth": 1},
         "encoding": {"x": {"datum": 0.189}, "x2": {"datum": 0.53}, "y": {"datum": 0.361}, "y2": {"datum": 0.234}}},
        {"data": {"values": [{}]}, "mark": {"type": "text", "align": "left", "baseline": "middle", "font": "Liberation Sans", "fontWeight": "bold", "fontSize": 7.5, "lineHeight": 9, "text": ["Fossil Hippo", "Dentin & Cement"]},
         "encoding": {"x": {"datum": 0.202}, "y": {"datum": 0.326}}},
        {"data": {"values": [{}]}, "mark": {"type": "point", "shape": "circle", "size": 420, "filled": false, "color": "#222222", "strokeWidth": 1.1, "opacity": 1},
         "encoding": {"x": {"datum": 0.327}, "y": {"datum": 0.886}}},
        {"data": {"values": [{}]}, "mark": {"type": "text", "text": "e", "font": "Liberation Sans", "fontSize": 16, "align": "center", "baseline": "middle", "dy": -1},
         "encoding": {"x": {"datum": 0.327}, "y": {"datum": 0.886}}},
        {"data": {"values": [{}]}, "mark": {"type": "text", "text": "Na*50", "font": "Liberation Sans", "fontWeight": "bold", "fontSize": 12.5, "align": "center", "baseline": "middle", "dy": -12},
         "encoding": {"x": {"datum": 0.5}, "y": {"datum": 1}}},
        {"data": {"values": [{}]}, "mark": {"type": "text", "text": "P", "font": "Liberation Sans", "fontWeight": "bold", "fontSize": 12.5, "align": "center", "baseline": "alphabetic", "dy": 12},
         "encoding": {"x": {"datum": 0}, "y": {"datum": 0}}},
        {"data": {"values": [{}]}, "mark": {"type": "text", "text": "Ca", "font": "Liberation Sans", "fontWeight": "bold", "fontSize": 12.5, "align": "center", "baseline": "alphabetic", "dx": 9, "dy": 12},
         "encoding": {"x": {"datum": 1}, "y": {"datum": 0}}}
      ]
    },
    {
      "width": 227, "height": 203,
      "layer": [
        {"data": {"name": "grid"},
         "transform": [
           {"calculate": "datum.f == 't' ? 0.5*datum.k : datum.f == 'r' ? datum.k : 1 - datum.k", "as": "x1"},
           {"calculate": "datum.f == 't' ? datum.k : 0", "as": "y1"},
           {"calculate": "datum.f == 't' ? 1 - datum.k + 0.5*datum.k : datum.f == 'r' ? datum.k + 0.5*(1 - datum.k) : 0.5*(1 - datum.k)", "as": "x2"},
           {"calculate": "datum.f == 't' ? datum.k : 1 - datum.k", "as": "y2"}],
         "mark": {"type": "rule"},
         "encoding": {
           "x": {"field": "x1", "type": "quantitative", "scale": {"domain": [-0.0718, 1.0923], "nice": false, "zero": false}, "axis": null},
           "y": {"field": "y1", "type": "quantitative", "scale": {"domain": [-0.0881, 1.1887], "nice": false, "zero": false}, "axis": null},
           "x2": {"field": "x2"}, "y2": {"field": "y2"},
           "color": {"condition": {"test": "datum.k == 0", "value": "#111111"}, "value": "#c8c8c8"},
           "strokeWidth": {"condition": {"test": "datum.k == 0", "value": 1.3}, "value": 0.7}}},
        {"data": {"values": [{}]}, "mark": {"type": "rule", "color": "#9c2b22", "strokeWidth": 1.3},
         "encoding": {"x": {"datum": 0.5, "type": "quantitative"}, "y": {"datum": 1, "type": "quantitative"}, "x2": {"datum": 0.61}, "y2": {"datum": 0}}},
        {"data": {"name": "pts"},
         "transform": [{"filter": "datum.panel == 'f'"}, {"calculate": "(datum.right + 0.5*datum.top)/100", "as": "tx"}, {"calculate": "datum.top/100", "as": "ty"}],
         "mark": {"type": "point", "filled": false, "opacity": 1, "strokeWidth": 1, "size": 22},
         "encoding": {
           "x": {"field": "tx", "type": "quantitative"}, "y": {"field": "ty", "type": "quantitative"},
           "color": {"field": "group", "type": "nominal", "scale": {"domain": ["Lake Albert", "Lake Kikorongo"], "range": ["#3556a0", "#e8452c"]},
             "legend": {"title": null, "orient": "none", "legendX": 45, "legendY": 155, "columns": 1, "rowPadding": 5}},
           "shape": {"field": "group", "type": "nominal", "scale": {"domain": ["Lake Albert", "Lake Kikorongo"], "range": ["circle", "square"]},
             "legend": {"title": null, "orient": "none", "legendX": 45, "legendY": 155, "columns": 1, "rowPadding": 5}}}},
        {"data": {"values": [{}]}, "mark": {"type": "rect", "fill": "white", "stroke": "#333333", "strokeWidth": 1},
         "encoding": {"x": {"datum": 0.159}, "x2": {"datum": 0.502}, "y": {"datum": 0.333}, "y2": {"datum": 0.22}}},
        {"data": {"values": [{}]}, "mark": {"type": "text", "align": "left", "baseline": "middle", "font": "Liberation Sans", "fontWeight": "bold", "fontSize": 7.5, "lineHeight": 9, "text": ["Fossil Hippo", "Dentin & Cement"]},
         "encoding": {"x": {"datum": 0.172}, "y": {"datum": 0.302}}},
        {"data": {"values": [{}]}, "mark": {"type": "point", "shape": "circle", "size": 420, "filled": false, "color": "#222222", "strokeWidth": 1.1, "opacity": 1},
         "encoding": {"x": {"datum": 0.313}, "y": {"datum": 0.893}}},
        {"data": {"values": [{}]}, "mark": {"type": "text", "text": "f", "font": "Liberation Sans", "fontSize": 16, "align": "center", "baseline": "middle", "dy": -1},
         "encoding": {"x": {"datum": 0.313}, "y": {"datum": 0.893}}},
        {"data": {"values": [{}]}, "mark": {"type": "text", "text": "Mg*100", "font": "Liberation Sans", "fontWeight": "bold", "fontSize": 12.5, "align": "center", "baseline": "middle", "dy": -12},
         "encoding": {"x": {"datum": 0.5}, "y": {"datum": 1}}},
        {"data": {"values": [{}]}, "mark": {"type": "text", "text": "P", "font": "Liberation Sans", "fontWeight": "bold", "fontSize": 12.5, "align": "center", "baseline": "alphabetic", "dy": 11},
         "encoding": {"x": {"datum": 0}, "y": {"datum": 0}}},
        {"data": {"values": [{}]}, "mark": {"type": "text", "text": "Ca", "font": "Liberation Sans", "fontWeight": "bold", "fontSize": 12.5, "align": "center", "baseline": "alphabetic", "dx": 9, "dy": 11},
         "encoding": {"x": {"datum": 1}, "y": {"datum": 0}}}
      ]
    },
    {
      "width": 227, "height": 203,
      "layer": [
        {"data": {"name": "grid"},
         "transform": [
           {"calculate": "datum.f == 't' ? 0.5*datum.k : datum.f == 'r' ? datum.k : 1 - datum.k", "as": "x1"},
           {"calculate": "datum.f == 't' ? datum.k : 0", "as": "y1"},
           {"calculate": "datum.f == 't' ? 1 - datum.k + 0.5*datum.k : datum.f == 'r' ? datum.k + 0.5*(1 - datum.k) : 0.5*(1 - datum.k)", "as": "x2"},
           {"calculate": "datum.f == 't' ? datum.k : 1 - datum.k", "as": "y2"}],
         "mark": {"type": "rule"},
         "encoding": {
           "x": {"field": "x1", "type": "quantitative", "scale": {"domain": [-0.066, 1.0863], "nice": false, "zero": false}, "axis": null},
           "y": {"field": "y1", "type": "quantitative", "scale": {"domain": [-0.0886, 1.1962], "nice": false, "zero": false}, "axis": null},
           "x2": {"field": "x2"}, "y2": {"field": "y2"},
           "color": {"condition": {"test": "datum.k == 0", "value": "#111111"}, "value": "#c8c8c8"},
           "strokeWidth": {"condition": {"test": "datum.k == 0", "value": 1.3}, "value": 0.7}}},
        {"data": {"values": [{}]}, "mark": {"type": "rule", "color": "#9c2b22", "strokeWidth": 1.3},
         "encoding": {"x": {"datum": 0.5, "type": "quantitative"}, "y": {"datum": 1, "type": "quantitative"}, "x2": {"datum": 0.614}, "y2": {"datum": 0}}},
        {"data": {"name": "pts"},
         "transform": [{"filter": "datum.panel == 'g'"}, {"calculate": "(datum.right + 0.5*datum.top)/100", "as": "tx"}, {"calculate": "datum.top/100", "as": "ty"}],
         "mark": {"type": "point", "filled": false, "opacity": 1, "strokeWidth": 1, "size": 22},
         "encoding": {
           "x": {"field": "tx", "type": "quantitative"}, "y": {"field": "ty", "type": "quantitative"},
           "color": {"field": "group", "type": "nominal", "scale": {"domain": ["Lake Albert", "Lake Kikorongo"], "range": ["#3556a0", "#e8452c"]},
             "legend": {"title": null, "orient": "none", "legendX": 56, "legendY": 151, "columns": 1, "rowPadding": 5}},
           "shape": {"field": "group", "type": "nominal", "scale": {"domain": ["Lake Albert", "Lake Kikorongo"], "range": ["circle", "square"]},
             "legend": {"title": null, "orient": "none", "legendX": 56, "legendY": 151, "columns": 1, "rowPadding": 5}}}},
        {"data": {"values": [{}]}, "mark": {"type": "rect", "fill": "white", "stroke": "#333333", "strokeWidth": 1},
         "encoding": {"x": {"datum": 0.218}, "x2": {"datum": 0.548}, "y": {"datum": 0.367}, "y2": {"datum": 0.241}}},
        {"data": {"values": [{}]}, "mark": {"type": "text", "align": "left", "baseline": "middle", "font": "Liberation Sans", "fontWeight": "bold", "fontSize": 7.5, "lineHeight": 9, "text": ["Fossil Hippo", "Dentin & Cement"]},
         "encoding": {"x": {"datum": 0.231}, "y": {"datum": 0.332}}},
        {"data": {"values": [{}]}, "mark": {"type": "point", "shape": "circle", "size": 420, "filled": false, "color": "#222222", "strokeWidth": 1.1, "opacity": 1},
         "encoding": {"x": {"datum": 0.325}, "y": {"datum": 0.892}}},
        {"data": {"values": [{}]}, "mark": {"type": "text", "text": "g", "font": "Liberation Sans", "fontSize": 16, "align": "center", "baseline": "middle", "dy": -2},
         "encoding": {"x": {"datum": 0.325}, "y": {"datum": 0.892}}},
        {"data": {"values": [{}]}, "mark": {"type": "text", "text": "Cl*100", "font": "Liberation Sans", "fontWeight": "bold", "fontSize": 12.5, "align": "center", "baseline": "middle", "dy": -12},
         "encoding": {"x": {"datum": 0.5}, "y": {"datum": 1}}},
        {"data": {"values": [{}]}, "mark": {"type": "text", "text": "P", "font": "Liberation Sans", "fontWeight": "bold", "fontSize": 12.5, "align": "center", "baseline": "alphabetic", "dy": 11},
         "encoding": {"x": {"datum": 0}, "y": {"datum": 0}}},
        {"data": {"values": [{}]}, "mark": {"type": "text", "text": "Ca", "font": "Liberation Sans", "fontWeight": "bold", "fontSize": 12.5, "align": "center", "baseline": "alphabetic", "dx": 8, "dy": 11},
         "encoding": {"x": {"datum": 1}, "y": {"datum": 0}}}
      ]
    },
    {
      "width": 226, "height": 203,
      "layer": [
        {"data": {"name": "grid"},
         "transform": [
           {"calculate": "datum.f == 't' ? 0.48*datum.k : datum.f == 'r' ? datum.k : 1 - datum.k", "as": "x1"},
           {"calculate": "datum.f == 't' ? datum.k : 0", "as": "y1"},
           {"calculate": "datum.f == 't' ? 1 - datum.k + 0.48*datum.k : datum.f == 'r' ? datum.k + 0.48*(1 - datum.k) : 0.48*(1 - datum.k)", "as": "x2"},
           {"calculate": "datum.f == 't' ? datum.k : 1 - datum.k", "as": "y2"}],
         "mark": {"type": "rule"},
         "encoding": {
           "x": {"field": "x1", "type": "quantitative", "scale": {"domain": [-0.0865, 1.1351], "nice": false, "zero": false}, "axis": null},
           "y": {"field": "y1", "type": "quantitative", "scale": {"domain": [-0.0859, 1.1595], "nice": false, "zero": false}, "axis": null},
           "x2": {"field": "x2"}, "y2": {"field": "y2"},
           "color": {"condition": {"test": "datum.k == 0", "value": "#111111"}, "value": "#c8c8c8"},
           "strokeWidth": {"condition": {"test": "datum.k == 0", "value": 1.3}, "value": 0.7}}},
        {"data": {"values": [{}]}, "mark": {"type": "rule", "color": "#e8361f", "strokeWidth": 1.8},
         "encoding": {"x": {"datum": 0.106, "type": "quantitative"}, "y": {"datum": 0.22, "type": "quantitative"}, "x2": {"datum": 1}, "y2": {"datum": 0}}},
        {"data": {"name": "pts"},
         "transform": [{"filter": "datum.panel == 'h'"}, {"calculate": "(datum.right + 0.48*datum.top)/100", "as": "tx"}, {"calculate": "datum.top/100", "as": "ty"}],
         "mark": {"type": "point", "filled": false, "opacity": 1, "strokeWidth": 1, "size": 24},
         "encoding": {
           "x": {"field": "tx", "type": "quantitative"}, "y": {"field": "ty", "type": "quantitative"},
           "color": {"field": "group", "type": "nominal", "scale": {"domain": ["Lake Albert", "Lake Kikorongo"], "range": ["#3556a0", "#e8452c"]},
             "legend": {"title": null, "orient": "none", "legendX": 107, "legendY": 142, "columns": 1, "rowPadding": 5}},
           "shape": {"field": "group", "type": "nominal", "scale": {"domain": ["Lake Albert", "Lake Kikorongo"], "range": ["circle", "square"]},
             "legend": {"title": null, "orient": "none", "legendX": 107, "legendY": 142, "columns": 1, "rowPadding": 5}}}},
        {"data": {"values": [{}]}, "mark": {"type": "rect", "fill": "white", "stroke": "#333333", "strokeWidth": 1},
         "encoding": {"x": {"datum": 0.411}, "x2": {"datum": 0.757}, "y": {"datum": 0.466}, "y2": {"datum": 0.313}}},
        {"data": {"values": [{}]}, "mark": {"type": "text", "align": "left", "baseline": "middle", "font": "Liberation Sans", "fontWeight": "bold", "fontSize": 7.5, "lineHeight": 11, "text": ["Fossil Hippo", "Dentin & Cement"]},
         "encoding": {"x": {"datum": 0.427}, "y": {"datum": 0.423}}},
        {"data": {"values": [{}]}, "mark": {"type": "point", "shape": "circle", "size": 420, "filled": false, "color": "#222222", "strokeWidth": 1.1, "opacity": 1},
         "encoding": {"x": {"datum": 0.33}, "y": {"datum": 0.877}}},
        {"data": {"values": [{}]}, "mark": {"type": "text", "text": "h", "font": "Liberation Sans", "fontSize": 16, "align": "center", "baseline": "middle", "dy": -1},
         "encoding": {"x": {"datum": 0.33}, "y": {"datum": 0.877}}},
        {"data": {"values": [{}]}, "mark": {"type": "text", "text": "Ca/100", "font": "Liberation Sans", "fontWeight": "bold", "fontSize": 12.5, "align": "center", "baseline": "middle", "dy": -10},
         "encoding": {"x": {"datum": 0.48}, "y": {"datum": 1}}},
        {"data": {"values": [{}]}, "mark": {"type": "text", "text": "Na", "font": "Liberation Sans", "fontWeight": "bold", "fontSize": 12.5, "align": "center", "baseline": "alphabetic", "dy": 11},
         "encoding": {"x": {"datum": 0}, "y": {"datum": 0}}},
        {"data": {"values": [{}]}, "mark": {"type": "text", "text": "Mg*3", "font": "Liberation Sans", "fontWeight": "bold", "fontSize": 12.5, "align": "center", "baseline": "alphabetic", "dx": 4, "dy": 11},
         "encoding": {"x": {"datum": 1}, "y": {"datum": 0}}}
      ]
    }
  ]
}
